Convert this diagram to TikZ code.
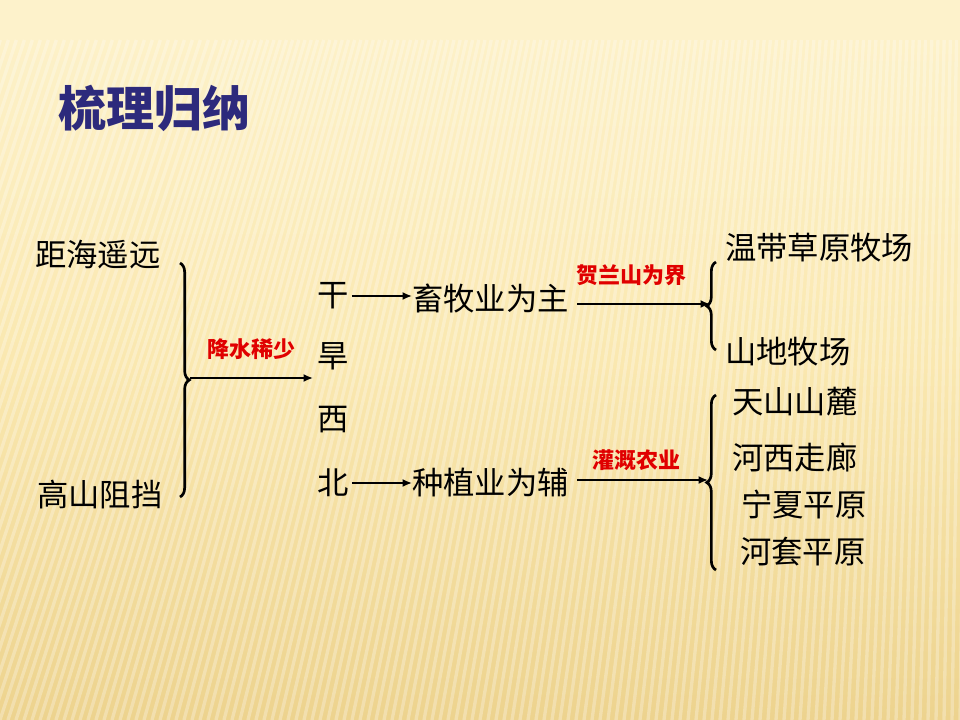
\documentclass[tikz,border=0pt]{standalone}
\usepackage{fontspec}
\usepackage{tikz}
\usetikzlibrary{arrows.meta,positioning,calc,decorations.pathreplacing}
\newfontfamily\cjk{Noto Sans CJK SC}
\definecolor{paper}{HTML}{FAE8B0}
\definecolor{papertop}{HTML}{FDF2CB}
\definecolor{paperlow}{HTML}{EDD38E}
\definecolor{ink}{HTML}{2D2A7C}
\definecolor{mark}{HTML}{E00000}

\begin{document}
\begin{tikzpicture}[x=0.75pt, y=-0.75pt,
    word/.style={font=\cjk\fontsize{23.5}{28}\selectfont, inner sep=0pt, anchor=west},
    chr/.style={font=\cjk\fontsize{23.5}{28}\selectfont, inner sep=0pt},
    hint/.style={font=\cjk\bfseries\fontsize{16.5}{20}\selectfont, text=mark, inner sep=0pt},
    arr/.style={line width=2pt, -{Latex[length=7pt,width=6pt]}},
    curly/.style={line width=2pt, decorate, decoration={brace, amplitude=7pt}}]
  \useasboundingbox (0,0) rectangle (960,720);
  % background
  \begin{scope}
    \clip (0,0) rectangle (960,720);
    \shade[top color=papertop, bottom color=paperlow, middle color=paper] (0,0) rectangle (960,720);
    \fill[papertop] (0,0) rectangle (960,40);
    \foreach \k in {-30,...,125}
      { \pgfmathsetmacro{\sl}{0.33*(1-max(\k,0)/125)}
        \draw[white, opacity=0.28, line width=2.5pt] (\k*8,720) -- ({\k*8+\sl*680},40); }
  \end{scope}

  % title
  \node[font=\cjk\bfseries\fontsize{36}{40}\selectfont, text=ink, inner sep=0pt, anchor=west] (title) at (58,108) {梳理归纳};

  % causes
  \node[word] (far) at (35,255) {距海遥远};
  \node[word] (mtn) at (37,495) {高山阻挡};
  \draw[curly] (180,263) -- (180,497);
  \coordinate (tip1) at (190,378);
  \coordinate (end1) at (313,378);
  \draw[arr] (tip1) -- (end1);
  \node[hint] (rain) at (251,349) {降水稀少};

  % 干旱西北
  \node[chr] (gan) at (333,296) {干};
  \node[chr] (han) at (333,356) {旱};
  \node[chr] (xi)  at (333,420) {西};
  \node[chr] (bei) at (333,483) {北};

  % herding row
  \node[word] (herd) at (412,298) {畜牧业为主};
  \draw[arr] (gan.east) ++(3,0) coordinate (g0) -- (herd.west |- g0);
  \coordinate (tip2) at (710,304);
  \draw[arr] (herd.east |- tip2) ++(8,0) -- (tip2);
  \node[hint] (helan) at (631,275) {贺兰山为界};
  \draw[curly] (716,350) -- (716,262);
  \node[word] (grass) at (725,248) {温带草原牧场};
  \node[word] (hill) at (725,352) {山地牧场};

  % farming row
  \node[word] (farm) at (412,482) {种植业为辅};
  \draw[arr] (bei.east) ++(3,0) coordinate (b0) -- (farm.west |- b0);
  \coordinate (tip3) at (708,480);
  \draw[arr] (farm.east |- tip3) ++(8,0) -- (tip3);
  \node[hint] (irrig) at (636,460) {灌溉农业};
  \draw[curly] (716,570) -- (716,395);
  \node[word] (tian) at (732,402) {天山山麓};
  \node[word] (hexi) at (732,458) {河西走廊};
  \node[word] (ning) at (741,505) {宁夏平原};
  \node[word] (htao) at (740,552) {河套平原};
\end{tikzpicture}
\end{document}
